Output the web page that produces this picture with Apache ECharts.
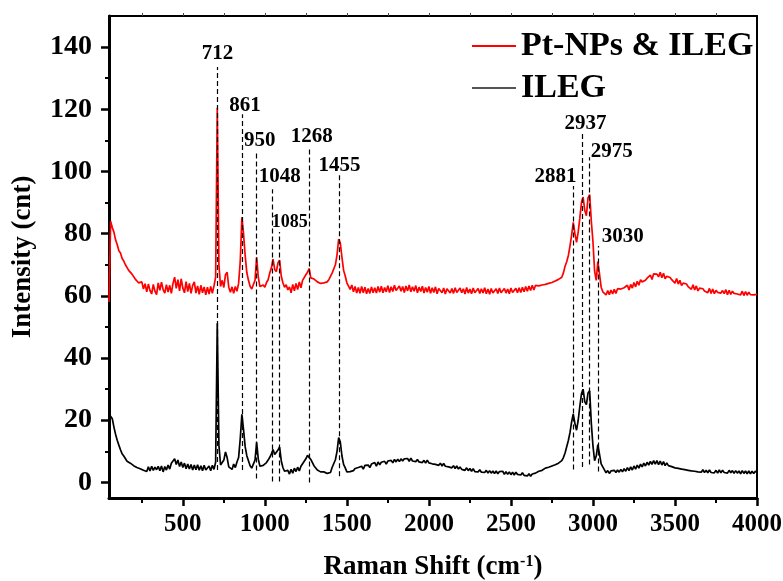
<!DOCTYPE html>
<html>
<head>
<meta charset="utf-8">
<script src="https://cdn.jsdelivr.net/npm/echarts@6/dist/echarts.min.js"></script>
<style>html,body{margin:0;padding:0;background:#fff;}#chart{width:783px;height:581px;}</style>
</head>
<body>
<div id="chart"></div>
<script>
// Raman shift sampling (cm-1)
const ramanShift = [
50,60,70,80,90,100,110,120,130,140,
150,160,170,180,190,200,210,220,230,240,
250,260,270,280,290,300,310,320,330,340,
350,360,370,380,390,400,410,420,430,440,
450,460,470,480,490,500,510,520,530,540,
550,560,570,580,590,600,610,620,630,640,
650,660,670,680,690,700,710,720,730,740,
750,760,770,780,790,800,810,820,830,840,
850,860,870,880,890,900,910,920,930,940,
950,960,970,980,990,1000,1010,1020,1030,1040,
1050,1060,1070,1080,1090,1100,1110,1120,1130,1140,
1150,1160,1170,1180,1190,1200,1210,1220,1230,1240,
1250,1260,1270,1280,1290,1300,1310,1320,1330,1340,
1350,1360,1370,1380,1390,1400,1410,1420,1430,1440,
1450,1460,1470,1480,1490,1500,1510,1520,1530,1540,
1550,1560,1570,1580,1590,1600,1610,1620,1630,1640,
1650,1660,1670,1680,1690,1700,1710,1720,1730,1740,
1750,1760,1770,1780,1790,1800,1810,1820,1830,1840,
1850,1860,1870,1880,1890,1900,1910,1920,1930,1940,
1950,1960,1970,1980,1990,2000,2010,2020,2030,2040,
2050,2060,2070,2080,2090,2100,2110,2120,2130,2140,
2150,2160,2170,2180,2190,2200,2210,2220,2230,2240,
2250,2260,2270,2280,2290,2300,2310,2320,2330,2340,
2350,2360,2370,2380,2390,2400,2410,2420,2430,2440,
2450,2460,2470,2480,2490,2500,2510,2520,2530,2540,
2550,2560,2570,2580,2590,2600,2610,2620,2630,2640,
2650,2660,2670,2680,2690,2700,2710,2720,2730,2740,
2750,2760,2770,2780,2790,2800,2810,2820,2830,2840,
2850,2860,2870,2880,2890,2900,2910,2920,2930,2940,
2950,2960,2970,2980,2990,3000,3010,3020,3030,3040,
3050,3060,3070,3080,3090,3100,3110,3120,3130,3140,
3150,3160,3170,3180,3190,3200,3210,3220,3230,3240,
3250,3260,3270,3280,3290,3300,3310,3320,3330,3340,
3350,3360,3370,3380,3390,3400,3410,3420,3430,3440,
3450,3460,3470,3480,3490,3500,3510,3520,3530,3540,
3550,3560,3570,3580,3590,3600,3610,3620,3630,3640,
3650,3660,3670,3680,3690,3700,3710,3720,3730,3740,
3750,3760,3770,3780,3790,3800,3810,3820,3830,3840,
3850,3860,3870,3880,3890,3900,3910,3920,3930,3940,
3950,3960,3970,3980,3990,4000
];

// Pt-NPs & ILEG intensity (cnt)
const ptIleg = [
58,84,82,80.5,78,76.5,74.5,73.8,72,71.2,
70,69.5,68.2,68.8,67,66.5,65.4,66,64.2,63.7,
64.5,62.2,63.9,61.3,63.8,61.7,60.6,63.7,61.5,60.4,
64.2,61.8,64.4,62,60.9,63.6,61.2,63.4,60.8,64,
66,62.4,65.2,61.6,65.5,62.5,61,64.6,61.4,64,
60.8,63.4,64.5,60.9,63.2,60.5,63.4,61,62.9,60.3,
62.8,60.6,63,60.8,63.2,66,120.5,70,63,65,
62.7,66.8,67.6,62.8,61.2,62.9,60.8,63,61.5,64,
71,85.3,80,73,67.5,65,63.1,62.2,62.6,65,
72.4,66,63,62.4,63.5,62.8,64.3,65.2,67.4,69,
71.8,68.5,67.8,70.6,71.5,66.4,64.2,62.8,63.6,61.9,
62.9,61,63.7,61.6,64,62,64.5,62.6,65,64.7,
66.8,67.6,68.8,65.8,66,65.4,64.9,64.5,64.4,64,
64.3,64.2,64.6,64.5,65.2,65.4,67.3,67.4,70,73.2,
78.3,77,72.4,68.2,66.4,64.2,63.9,62.1,63.5,61.3,
63,60.9,62.7,60.8,63,61,62.8,60.7,62.4,60.8,
62.9,61,62.6,60.9,63,61.2,63.1,61,62.7,61.3,
63.3,61.1,62.9,61.4,63.4,61.7,61.2,63.2,61.5,63,
61.1,63.2,61.6,63.5,61.3,62.9,61.5,63.3,61,62.8,
61.4,63.1,60.9,62.7,61.2,63,60.8,62.6,61.1,62.9,
60.7,62.4,62.8,61,62.5,60.6,62.3,62.7,60.9,62.4,
60.8,62.6,61.1,60.7,62.5,61,62.3,60.6,62.7,60.9,
62.2,60.7,62.5,61,60.5,62.4,60.8,62.3,60.9,62.6,
60.7,62.2,60.5,62.4,60.9,60.6,62.3,60.8,62.5,61,
60.6,62.4,60.9,62.2,60.7,62.5,61.1,60.8,62.4,61,
62.6,61.1,62.8,61.3,63,61.5,63.2,61.7,63.4,61.9,
63.4,62.8,63.2,63,63.5,63.3,63.7,63.5,64,63.7,
64.3,64,64.8,64.5,65.3,65.3,66,67.4,69.5,71,
73,76,79.5,83.6,80,77.2,80.5,85,90,91.8,
87.5,85.8,91.5,92.6,84,77.5,68,65,71,67,
62.8,61.3,61.7,60.3,61.7,60.4,61.9,60.6,62.1,60.8,
62.3,61.7,62.2,62,62.6,62.1,63.4,61.9,63.7,62.5,
64.3,62.9,64.7,63.4,65.2,64.5,65.1,65,65.7,65.4,
66.7,65.3,67.1,66.5,67,66.1,67.6,65.8,67.3,65.5,
66.3,65.7,65.9,65.2,65.5,64.1,65.6,63.8,65,63.3,
64.1,63.5,63.8,63,63.3,62.1,63.6,61.9,63.2,61.6,
62.5,61.9,62.3,61.6,62.1,61,62.4,60.8,62.2,60.7,
61.8,61.1,61.5,60.9,61.7,60.7,62,60.4,61.8,60.5,
61.5,60.8,61.3,60.6,61.2,60.3,61.5,60.1,61.4,60.2,
61.2,60.4,61,60.3,60.9,60.5
];

// ILEG intensity (cnt)
const ileg = [
22,22.5,20.5,17.8,15.5,13.6,12,10.5,9.2,8.5,
7.9,6.8,6.8,6.2,6.1,5.4,5.5,4.8,5,4.4,
4.6,3.9,4.3,3.5,5,3.7,5.2,3.9,4.9,4.1,
5.2,3.8,5.3,3.4,5.1,4,5.6,4.3,6.2,5.6,
7.6,5.8,7.2,5.1,6.6,4.8,6.2,4.4,5.9,4.3,
5.8,4,5.6,4.1,5.7,3.9,5.4,3.8,5.5,4,
3.7,5.3,3.8,5.5,4.2,6.5,51.2,12,5.6,6,
7.2,9.8,8,5,5.3,4.2,5.9,4.8,6.6,8,
14,21.9,17,11.5,8.6,7,5.4,4.6,5,7.2,
12.9,7.5,5.2,4.8,5.5,5.8,6.4,7.2,8.1,9.2,
10.6,9,8.6,10.4,11.4,7,4.8,3.6,3.2,3.9,
2.7,4.2,3,4.6,3.5,4.9,3.7,5.2,5.3,6.8,
7.6,8.7,9,7.4,6.8,5.3,5.4,4,4.5,3.4,
3.9,3.4,3.6,2.9,3.3,3.2,4.8,5.2,7.3,10,
14.4,13,8.5,5.8,4.7,3.4,3.9,3.5,4.1,3.8,
4.5,4.1,4.8,4.4,5.2,4.3,5.5,4.9,5.6,4.8,
5.9,5.4,6.4,5.2,6.6,5.7,6.5,6.1,6.8,5.9,
6.9,6.5,7.1,6.3,7.4,6.6,7.5,6.7,7.6,6.9,
7.6,7,7.7,6.8,7.8,6.9,7.5,6.7,7.4,6.6,
7.2,6.4,7.1,6.2,7.2,6.3,6.7,6,6.6,5.8,
6.3,5.5,6.2,5.3,6.1,5.2,5.8,5,5.6,4.7,
5.4,4.5,5.3,4.3,5,4.2,4.8,3.9,4.7,3.8,
4.5,3.6,4.4,3.5,4.1,3.4,4.1,3.3,3.9,3.2,
3.9,3,3.8,3,3.7,2.9,3.7,2.8,3.5,2.9,
3.6,2.6,3.5,2.6,3.4,2.5,3.3,2.4,3.3,2.6,
3.2,2.4,3.1,2.3,2.9,2.1,2.8,2,2.7,2.1,
3,2.5,3.6,3.2,3.9,3.6,4.6,4.2,4.9,4.7,
5.3,5.1,5.7,5.8,6.2,6.4,7,8,9.5,11.5,
13.5,16,19.5,22,19,16.8,20,24.5,28.5,30,
26,25,28.8,29.5,19,11.8,7,8.5,12.2,9,
6,5,4.6,3.1,3.8,2.9,3.7,3.1,3.9,3.2,
4,3.3,4.2,3.4,4.4,3.6,4.8,3.8,5,4,
5.3,4.3,5.6,4.6,5.9,5,6.2,5.3,6.5,5.6,
6.8,5.8,7,5.9,7,5.7,6.9,5.6,6.7,5.4,
6.3,5.4,6,5.1,5.6,4.7,5.3,4.5,5.1,4.3,
4.9,4.1,4.7,3.9,4.5,3.7,4.3,3.6,4.1,3.4,
4,3.3,4.1,3.2,3.9,3.1,4,3.2,3.8,3.1,
3.9,3,4,3.1,3.9,3.2,3.7,3,3.9,3.1,
3.8,2.9,3.8,3,3.7,2.8,3.8,2.9,3.7,2.8,
3.7,2.8,3.6,2.9,3.6,3.2
];

// Peak annotations
const peakShifts = [712, 861, 950, 1048, 1085, 1268, 1455, 2881, 2937, 2975, 3030];
const peakLabels = ['712', '861', '950', '1048', '1085', '1268', '1455', '2881', '2937', '2975', '3030'];
const peakTops = [133.6, 118.4, 106.2, 94.3, 80.5, 107.8, 99, 95.3, 112.6, 104.6, 76];
const peakBottoms = [4, 4, 1.3, 0.3, 0.3, 0, 2, 4.2, 5, 5.8, 3.5];

// Tick values
const xMajorTicks = [500, 1000, 1500, 2000, 2500, 3000, 3500, 4000];
const xMinorTicks = [250, 750, 1250, 1750, 2250, 2750, 3250, 3750];
const xTopTicks = [250, 500, 750, 1000, 1250, 1500, 1750, 2000, 2250, 2500, 2750, 3000, 3250, 3500, 3750];
const yMajorTicks = [0, 20, 40, 60, 80, 100, 120, 140];
const yMinorTicks = [10, 30, 50, 70, 90, 110, 130];

const seriesNames = ['Pt-NPs & ILEG', 'ILEG'];

// ---- styling ----
const FONT = '"Times New Roman", "Liberation Serif", serif';
const labelOffsets = [[0,-13],[3,-9],[3,-12],[7,-13],[11,-10],[3,-11],[0,-9],[-18,-10],[3,-9],[23,-6],[25,-10]];
const labelSizes = [21,21,21,21,18,21,21,21,21,21,21];

const chart = echarts.init(document.getElementById('chart'), null, {renderer: 'canvas'});

const pair = (ys) => ramanShift.map((x, i) => [x, ys[i]]);
const plain = (v) => String(v);

const baseX = {type: 'value', min: 50, max: 4000, gridIndex: 0, splitLine: {show: false}};
const baseY = {type: 'value', min: -5, max: 150, gridIndex: 0, splitLine: {show: false}};

const option = {
  animation: false,
  backgroundColor: '#fff',
  grid: {left: 109, right: 26, top: 16, bottom: 83, outerBoundsMode: 'none', containLabel: false},
  legend: {
    orient: 'vertical', left: 467, top: 20, itemGap: 0, itemWidth: 44, itemHeight: 2,
    icon: 'rect', selectedMode: false,
    textStyle: {fontFamily: FONT, fontWeight: 'bold', fontSize: 34, color: '#000', lineHeight: 42},
    data: [
      {name: seriesNames[0], itemStyle: {color: '#ff0000'}},
      {name: seriesNames[1], itemStyle: {color: '#555555'}}
    ]
  },
  xAxis: [
    Object.assign({}, baseX, {
      position: 'bottom',
      axisLine: {show: true, onZero: false, lineStyle: {color: '#000', width: 3}},
      axisTick: {show: true, inside: false, length: 8, customValues: xMajorTicks, lineStyle: {color: '#000', width: 2.5}},
      axisLabel: {show: true, customValues: xMajorTicks, formatter: plain, margin: 14, color: '#000', fontFamily: FONT, fontWeight: 'bold', fontSize: 25},
      name: 'Raman Shift (cm{sup|-1})',
      nameLocation: 'middle', nameGap: 56,
      nameTextStyle: {color: '#000', fontFamily: FONT, fontWeight: 'bold', fontSize: 27,
        rich: {sup: {fontFamily: FONT, fontWeight: 'bold', fontSize: 16, verticalAlign: 'top', color: '#000'}}}
    }),
    Object.assign({}, baseX, {
      position: 'bottom',
      axisLine: {show: false, onZero: false},
      axisTick: {show: true, inside: false, length: 5, customValues: xMinorTicks, lineStyle: {color: '#000', width: 2}},
      axisLabel: {show: false}
    }),
    Object.assign({}, baseX, {
      position: 'top',
      axisLine: {show: true, onZero: false, lineStyle: {color: '#000', width: 2}},
      axisTick: {show: true, inside: false, length: 3, customValues: xTopTicks, lineStyle: {color: '#444', width: 1}},
      axisLabel: {show: false}
    })
  ],
  yAxis: [
    Object.assign({}, baseY, {
      position: 'left',
      axisLine: {show: true, onZero: false, lineStyle: {color: '#000', width: 3}},
      axisTick: {show: true, inside: false, length: 8, customValues: yMajorTicks, lineStyle: {color: '#000', width: 2.5}},
      axisLabel: {show: true, customValues: yMajorTicks, formatter: plain, margin: 17, color: '#000', fontFamily: FONT, fontWeight: 'bold', fontSize: 28},
      name: 'Intensity (cnt)',
      nameLocation: 'middle', nameGap: 72, nameRotate: 90,
      nameTextStyle: {color: '#000', fontFamily: FONT, fontWeight: 'bold', fontSize: 27}
    }),
    Object.assign({}, baseY, {
      position: 'left',
      axisLine: {show: false, onZero: false},
      axisTick: {show: true, inside: false, length: 4, customValues: yMinorTicks, lineStyle: {color: '#000', width: 2}},
      axisLabel: {show: false}
    }),
    Object.assign({}, baseY, {
      position: 'right',
      axisLine: {show: true, onZero: false, lineStyle: {color: '#000', width: 2}},
      axisTick: {show: false},
      axisLabel: {show: false}
    })
  ],
  series: [
    {
      name: seriesNames[1], type: 'line', xAxisIndex: 0, yAxisIndex: 0,
      data: pair(ileg), showSymbol: false, symbol: 'none',
      lineStyle: {color: '#000', width: 1.7}, itemStyle: {color: '#555'},
      z: 3,
      markLine: {
        silent: true, symbol: ['none', 'none'], animation: false,
        label: {show: false},
        lineStyle: {color: '#000', width: 1.2, type: [5, 3], opacity: 1},
        emphasis: {disabled: true},
        data: peakShifts.map((s, i) => [{coord: [s, peakBottoms[i]]}, {coord: [s, peakTops[i]]}])
      }
    },
    {
      name: seriesNames[0], type: 'line', xAxisIndex: 0, yAxisIndex: 0,
      data: pair(ptIleg), showSymbol: false, symbol: 'none',
      lineStyle: {color: '#ff0000', width: 1.7}, itemStyle: {color: '#ff0000'},
      z: 2
    },
    {
      name: 'peaks', type: 'scatter', xAxisIndex: 0, yAxisIndex: 0, symbolSize: 0, silent: true, z: 5,
      itemStyle: {color: '#000', opacity: 1},
      data: peakShifts.map((s, i) => ({
        value: [s, peakTops[i]],
        itemStyle: {opacity: 1},
        label: {show: true, position: 'inside', formatter: peakLabels[i], offset: labelOffsets[i],
          color: '#000', opacity: 1, textBorderWidth: 0, textBorderColor: 'transparent',
          fontFamily: FONT, fontWeight: 'bold', fontSize: labelSizes[i]}
      }))
    }
  ]
};
chart.setOption(option);
</script>
</body>
</html>
